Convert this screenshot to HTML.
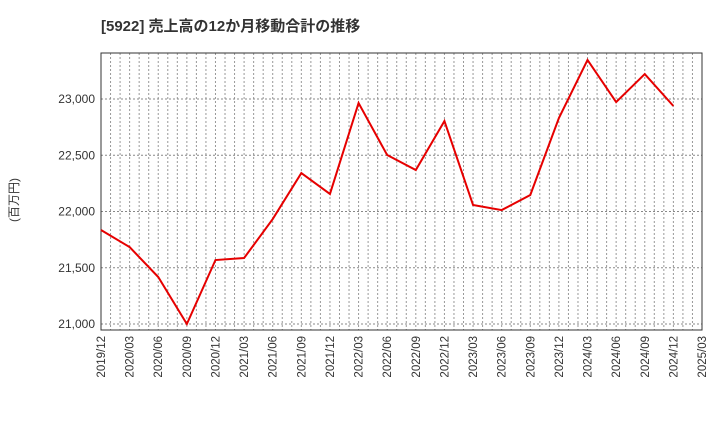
<!DOCTYPE html>
<html><head><meta charset="utf-8"><style>
body{margin:0;background:#fff;width:720px;height:440px;overflow:hidden;font-family:"Liberation Sans","Noto Sans CJK JP",sans-serif}
svg text{font-family:"Liberation Sans","Noto Sans CJK JP",sans-serif}
</style></head><body>
<svg id="c" width="720" height="440">
<text x="101" y="31" font-size="15" font-weight="bold" fill="#333">[5922]  売上高の12か月移動合計の推移</text>
<text transform="translate(18,200) rotate(-90)" font-size="12" fill="#333" text-anchor="middle">(百万円)</text>
</svg>
<script>
const categories=["2019/12","2020/03","2020/06","2020/09","2020/12","2021/03","2021/06","2021/09","2021/12","2022/03","2022/06","2022/09","2022/12","2023/03","2023/06","2023/09","2023/12","2024/03","2024/06","2024/09","2024/12"];
const xTickLabels=["2019/12","2020/03","2020/06","2020/09","2020/12","2021/03","2021/06","2021/09","2021/12","2022/03","2022/06","2022/09","2022/12","2023/03","2023/06","2023/09","2023/12","2024/03","2024/06","2024/09","2024/12","2025/03"];
const salesValues=[21836,21684,21418,21000,21569,21587,21933,22342,22156,22964,22502,22369,22804,22058,22013,22147,22831,23347,22973,23222,22938];
const yTicks=[21000,21500,22000,22500,23000];
const svg=document.getElementById('c');const NS="http://www.w3.org/2000/svg";
const L=101,R=702,T=53,B=330,yMin=20947,yMax=23409;
const x=i=>L+(R-L)*i/(xTickLabels.length-1);
const y=v=>B-(v-yMin)/(yMax-yMin)*(B-T);
function mk(t,a){const e=document.createElementNS(NS,t);for(const k in a)e.setAttribute(k,a[k]);svg.appendChild(e);return e;}
const nq=xTickLabels.length-1;
for(let m=1;m<nq*3;m++){const xx=L+(R-L)*m/(nq*3);
const g=mk('line',{x1:xx,x2:xx,y1:T,y2:B,stroke:'#999','stroke-dasharray':'2,2','stroke-width':1});

}
yTicks.forEach(v=>{const g=mk('line',{x1:L,x2:R,y1:y(v),y2:y(v),stroke:'#888','stroke-dasharray':'2,2','stroke-width':1});


const t=mk('text',{x:L-6,y:y(v)+4,'font-size':12,'text-anchor':'end',fill:'#333'});t.textContent=v.toLocaleString('en-US');

});
xTickLabels.forEach((s,i)=>{const t=mk('text',{transform:`translate(${x(i)+4},${B+6}) rotate(-90)`,'font-size':11.5,'text-anchor':'end',fill:'#333'});t.textContent=s;

});
const fr=mk('rect',{x:L,y:T,width:R-L,height:B-T,fill:'none',stroke:'#333','stroke-width':1});


const ln=mk('polyline',{points:salesValues.map((v,i)=>x(i)+','+y(v)).join(' '),fill:'none',stroke:'#e60000','stroke-width':2});


</script>
</body></html>
